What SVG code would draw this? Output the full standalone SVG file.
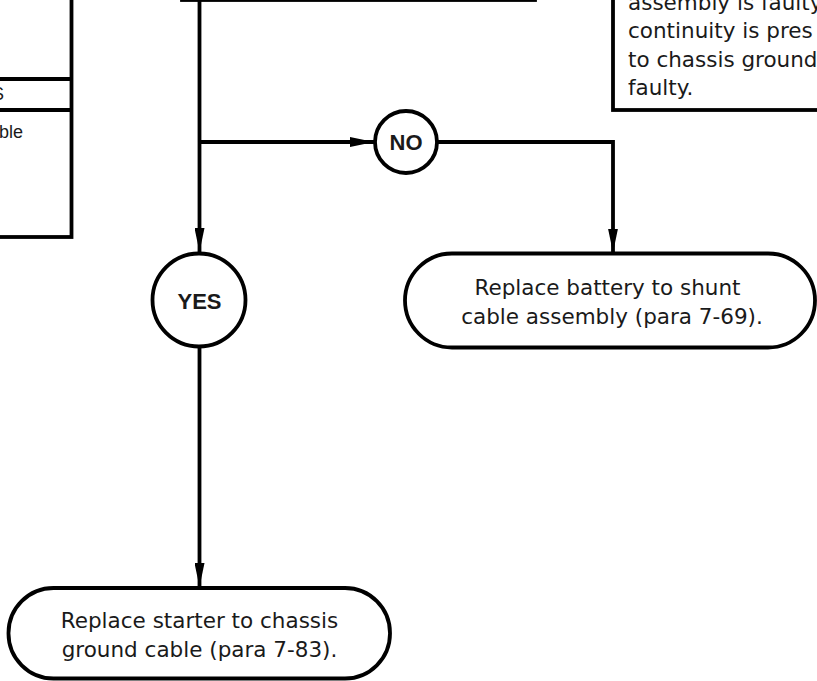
<svg xmlns="http://www.w3.org/2000/svg" width="817" height="681" viewBox="0 0 817 681">
<defs>
<style>
.box{fill:#fff;stroke:#000;stroke-width:3.8}
.ln{fill:none;stroke:#000;stroke-width:3.8}
.arr{fill:none;stroke:#000;stroke-width:3.8;marker-end:url(#ah)}
.t{font-family:"DejaVu Sans",sans-serif;font-size:21.5px;fill:#1a1a1a}
.tc{font-family:"DejaVu Sans",sans-serif;font-size:21.5px;fill:#1a1a1a;text-anchor:middle}
.tb{font-family:"Liberation Sans",Arial,sans-serif;font-weight:bold;font-size:22px;fill:#1a1a1a;text-anchor:middle}
.ts{font-family:"Liberation Sans",Arial,sans-serif;font-size:18px;fill:#1a1a1a;text-anchor:end}
</style>
<marker id="ah" markerUnits="userSpaceOnUse" markerWidth="24" markerHeight="10" refX="24" refY="5" orient="auto">
<path d="M0,0 L24,5 L0,10 Z" fill="#000"/>
</marker>
</defs>
<rect width="817" height="681" fill="#fff"/>

<g id="connectors">
<path class="ln" d="M199.5,0 V142"/>
<path class="arr" d="M199.5,142 V252"/>
<path class="arr" d="M199.5,142 H374"/>
<path class="arr" d="M437.5,142 H613 V252.5"/>
<path class="arr" d="M199.5,346.5 V587"/>
</g>

<g id="node-left">
<rect class="box" x="-100" y="-100" width="171.5" height="337"/>
<path class="ln" d="M-100,79 H71.5 M-100,110 H71.5"/>
<text class="ts" x="4" y="100">S</text>
<text class="ts" x="23" y="138">ble</text>
</g>

<g id="node-top">
<rect class="box" x="182" y="-100" width="353" height="100"/>
</g>

<g id="node-topright">
<rect class="box" x="613" y="-60" width="260" height="170"/>
<text class="t" x="628" y="9.5">assembly is faulty</text>
<text class="t" x="628" y="38.3">continuity is pres</text>
<text class="t" x="628" y="66.7">to chassis ground</text>
<text class="t" x="628" y="95">faulty.</text>
</g>

<g id="node-no">
<circle class="box" cx="406" cy="142" r="31"/>
<text class="tb" x="406" y="150">NO</text>
</g>

<g id="node-yes">
<circle class="box" cx="199" cy="300" r="46.5"/>
<text class="tb" x="199.5" y="309">YES</text>
</g>

<g id="node-battery">
<rect class="box" x="405" y="253.5" width="410" height="94" rx="47" ry="47"/>
<text class="tc" x="607.5" y="295">Replace battery to shunt</text>
<text class="tc" x="612" y="324">cable assembly (para 7-69).</text>
</g>

<g id="node-starter">
<rect class="box" x="8.5" y="588" width="381.5" height="90.5" rx="45" ry="45"/>
<text class="tc" x="199.5" y="628">Replace starter to chassis</text>
<text class="tc" x="199.5" y="657">ground cable (para 7-83).</text>
</g>
</svg>
